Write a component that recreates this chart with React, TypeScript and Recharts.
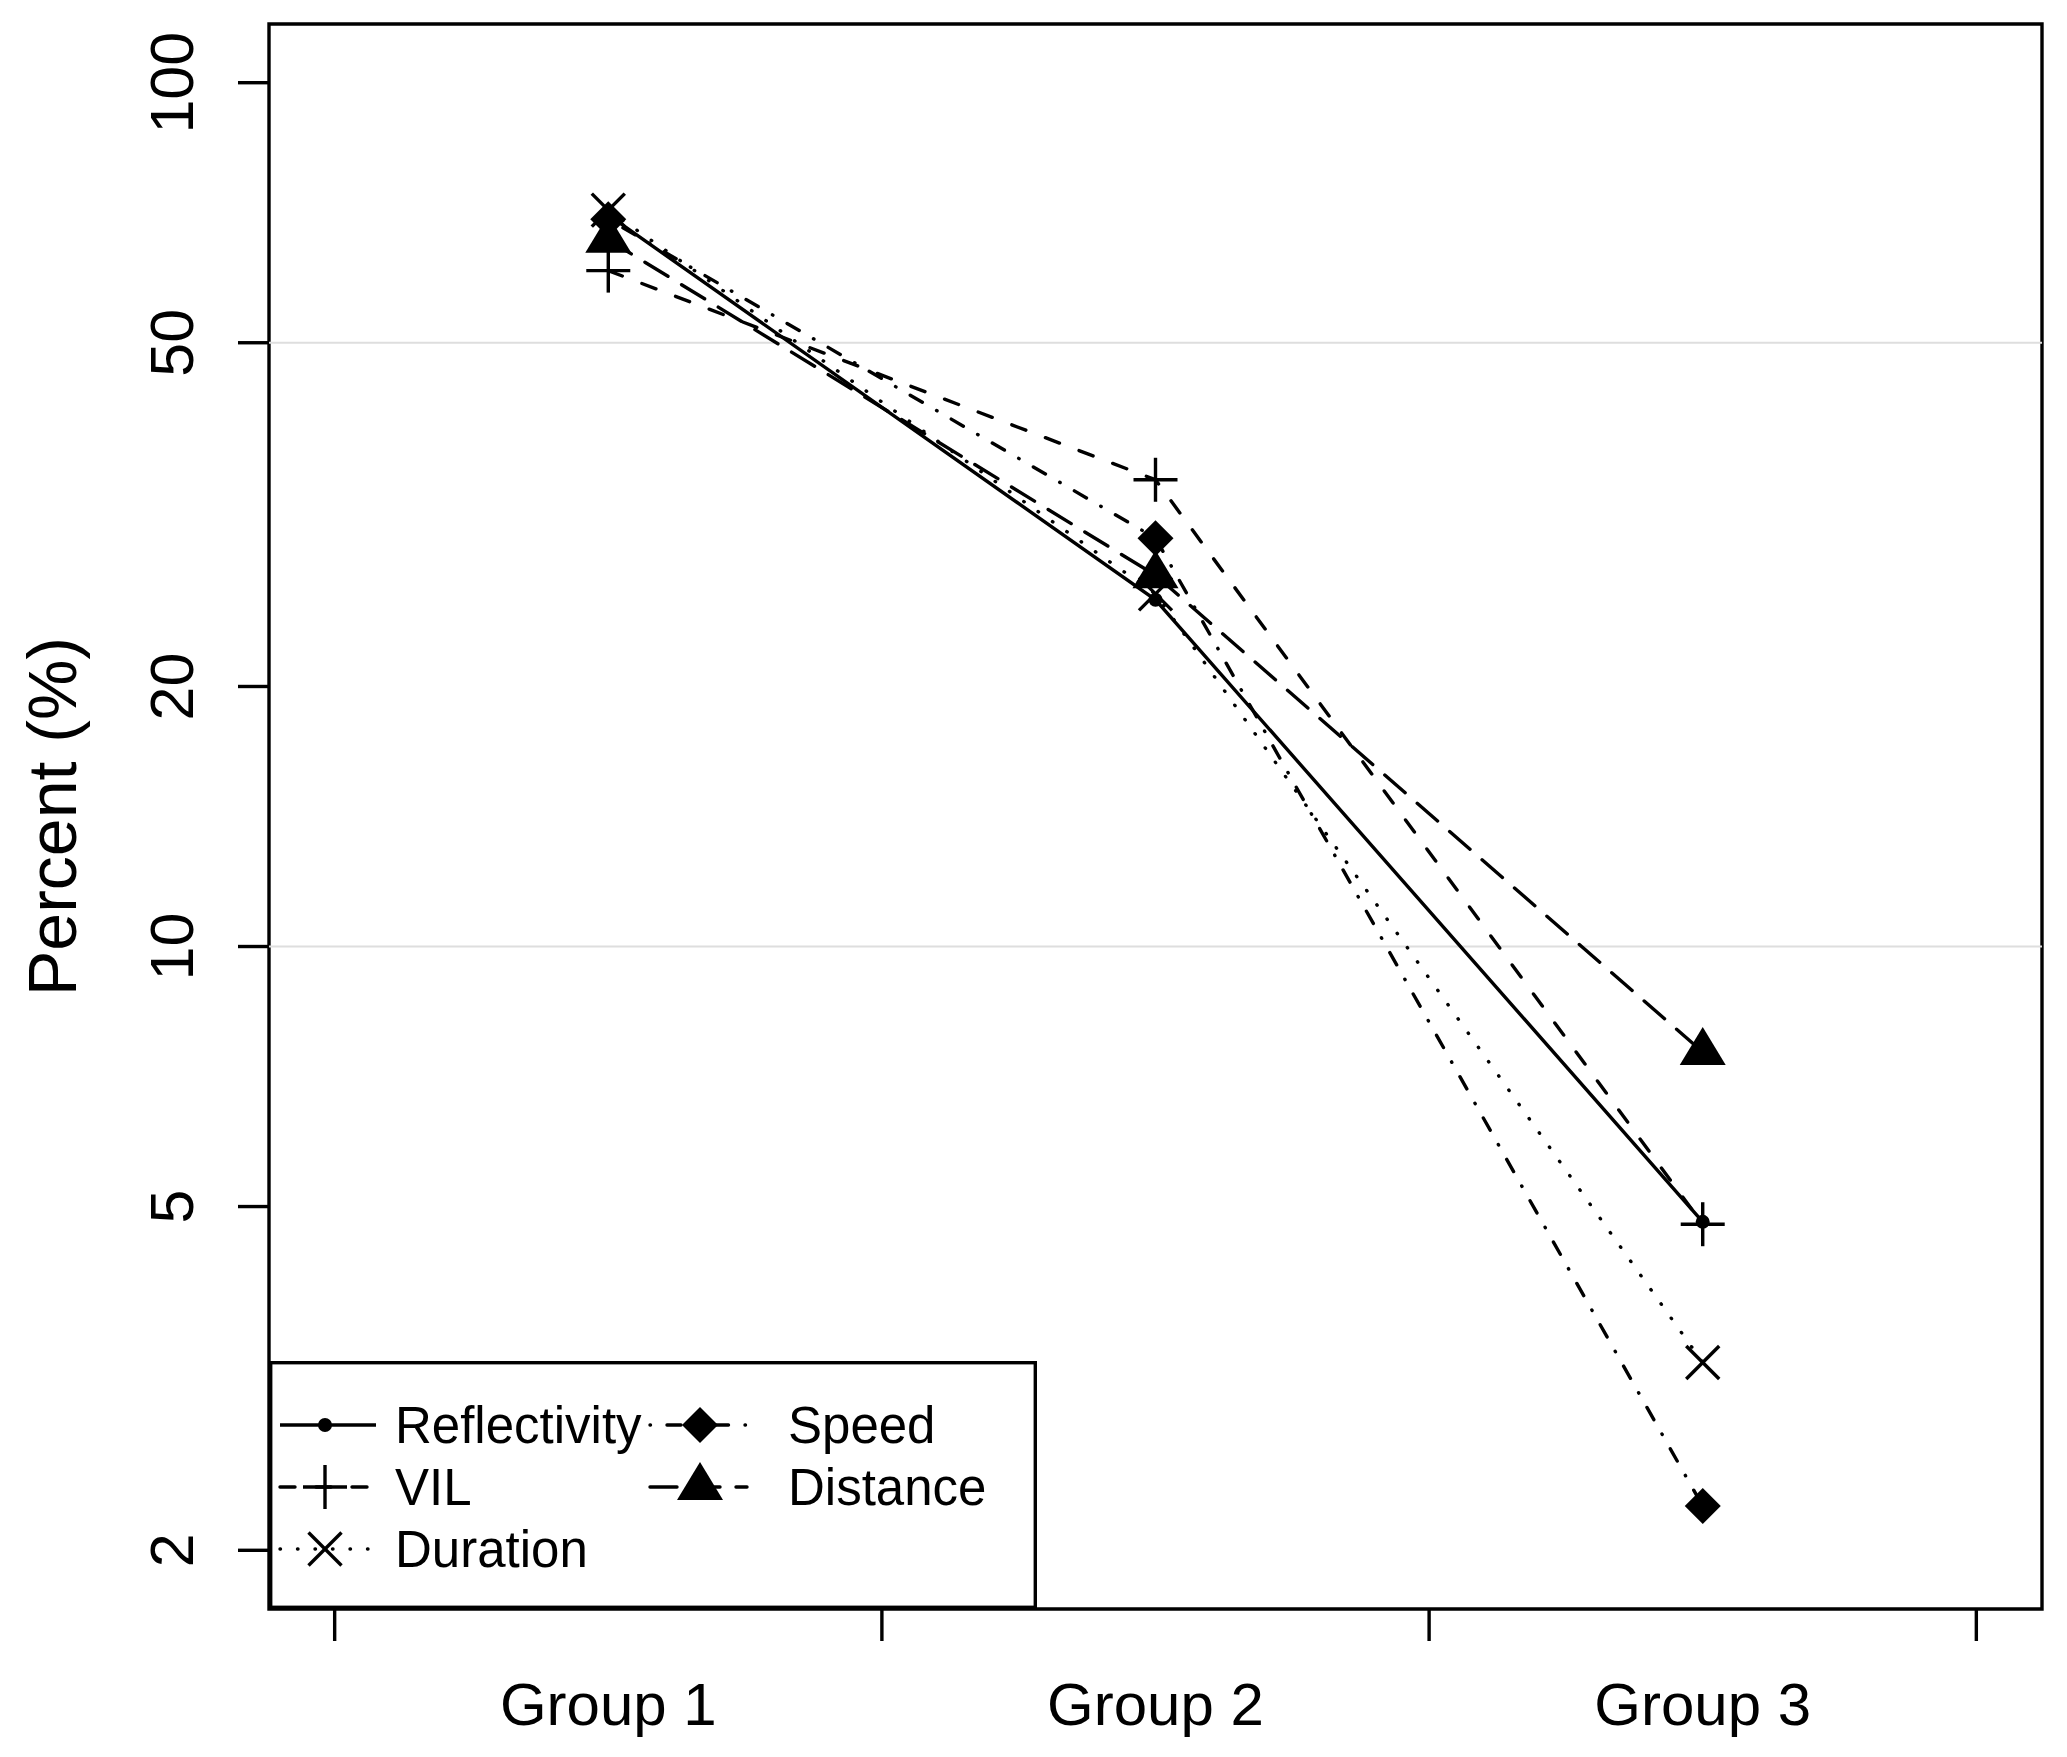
import React from 'react';
import { LineChart, Line, XAxis, YAxis, ReferenceLine, ReferenceArea, Legend } from 'recharts';

const groups = ['Group 1', 'Group 2', 'Group 3'];
const groupPositions = [0.5, 1.5, 2.5];
const xTicks = [0, 0.5, 1, 1.5, 2, 2.5, 3];
const yTicks = [2, 5, 10, 20, 50, 100];
const gridValues = [50, 10];

const reflectivity = [70.3, 25.2, 4.8];
const vil = [60.6, 34.7, 4.77];
const duration = [71.2, 25.6, 3.3];
const speed = [69.5, 29.7, 2.25];
const distance = [65.8, 26.9, 7.55];

const X_DOMAIN: [number, number] = [-0.12, 3.12];
const Y_DOMAIN: [number, number] = [1.7103, 116.94];

const FONT = '"Liberation Sans", Arial, Helvetica, sans-serif';

const rows = groups.map((g, i) => ({
  x: groupPositions[i],
  name: g,
  reflectivity: reflectivity[i],
  vil: vil[i],
  duration: duration[i],
  speed: speed[i],
  distance: distance[i],
}));

type Kind = 'dot' | 'plus' | 'cross' | 'diamond' | 'triangle';

const series: { key: string; label: string; kind: Kind; dash?: string }[] = [
  { key: 'reflectivity', label: 'Reflectivity', kind: 'dot' },
  { key: 'vil', label: 'VIL', kind: 'plus', dash: '15 21' },
  { key: 'duration', label: 'Duration', kind: 'cross', dash: '0.5 17' },
  { key: 'speed', label: 'Speed', kind: 'diamond', dash: '0.5 16.5 14 16.5' },
  { key: 'distance', label: 'Distance', kind: 'triangle', dash: '27 16' },
];

const SW = 3.4;

function Marker({ cx, cy, kind }: { cx: number; cy: number; kind: Kind }) {
  if (cx == null || cy == null) return null;
  switch (kind) {
    case 'dot':
      return <circle cx={cx} cy={cy} r={7} fill="#000" />;
    case 'plus': {
      const h = 22;
      return (
        <g stroke="#000" strokeWidth={SW}>
          <line x1={cx - h} y1={cy} x2={cx + h} y2={cy} />
          <line x1={cx} y1={cy - h} x2={cx} y2={cy + h} />
        </g>
      );
    }
    case 'cross': {
      const h = 16.5;
      return (
        <g stroke="#000" strokeWidth={SW}>
          <line x1={cx - h} y1={cy - h} x2={cx + h} y2={cy + h} />
          <line x1={cx - h} y1={cy + h} x2={cx + h} y2={cy - h} />
        </g>
      );
    }
    case 'diamond': {
      const h = 18;
      return <polygon points={`${cx},${cy - h} ${cx + h},${cy} ${cx},${cy + h} ${cx - h},${cy}`} fill="#000" />;
    }
    case 'triangle': {
      const w = 23;
      return <polygon points={`${cx},${cy - 25} ${cx + w},${cy + 13} ${cx - w},${cy + 13}`} fill="#000" />;
    }
  }
  return null;
}

function XTick(props: any) {
  const { x, y, payload } = props;
  const v = payload.value as number;
  if (Number.isInteger(v)) {
    return <line x1={x} y1={y} x2={x} y2={y + 32} stroke="#000" strokeWidth={SW} />;
  }
  const label = groups[Math.floor(v)];
  return (
    <text x={x} y={y + 116} textAnchor="middle" fontFamily={FONT} fontSize={60} fill="#000">
      {label}
    </text>
  );
}

function YTick(props: any) {
  const { x, y, payload } = props;
  const tx = x - 76;
  return (
    <g>
      <line x1={x - 31} y1={y} x2={x} y2={y} stroke="#000" strokeWidth={SW} />
      <text
        x={tx}
        y={y}
        transform={`rotate(-90, ${tx}, ${y})`}
        textAnchor="middle"
        fontFamily={FONT}
        fontSize={61}
        fill="#000"
      >
        {payload.value}
      </text>
    </g>
  );
}

function YLabel(props: any) {
  const vb = props.viewBox || { x: 0, y: 24, width: 269, height: 1585 };
  const lx = vb.x + 76;
  const ly = vb.y + vb.height / 2;
  return (
    <text
      x={lx}
      y={ly}
      transform={`rotate(-90, ${lx}, ${ly})`}
      textAnchor="middle"
      fontFamily={FONT}
      fontSize={68}
      fill="#000"
    >
      Percent (%)
    </text>
  );
}

const legendCols = [
  ['reflectivity', 'vil', 'duration'],
  ['speed', 'distance'],
];

function LegendBox() {
  const W = 768;
  const H = 248;
  const colLine = [
    { x1: 11, x2: 107, sym: 56, text: 126 },
    { x1: 381, x2: 478, sym: 431, text: 519 },
  ];
  const rowY = [64, 126, 188];
  return (
    <svg width={W} height={H} style={{ display: 'block' }}>
      <rect x={1.7} y={1.7} width={W - 3.4} height={H - 3.4} fill="#fff" stroke="#000" strokeWidth={SW} />
      {legendCols.map((col, ci) =>
        col.map((key, ri) => {
          const s = series.find((q) => q.key === key)!;
          const c = colLine[ci];
          const y = rowY[ri];
          return (
            <g key={key}>
              <line
                x1={c.x1}
                y1={y}
                x2={c.x2}
                y2={y}
                stroke="#000"
                strokeWidth={SW}
                strokeDasharray={s.dash}
                strokeLinecap={s.dash ? 'round' : 'butt'}
              />
              <Marker cx={c.sym} cy={y} kind={s.kind} />
              <text x={c.text} y={y + 18} fontFamily={FONT} fontSize={51} fill="#000">
                {s.label}
              </text>
            </g>
          );
        })
      )}
    </svg>
  );
}

export default function App() {
  return (
    <div style={{ position: 'absolute', left: 0, top: 0, background: '#fff' }}>
      <LineChart width={2067} height={1757} data={rows} margin={{ top: 24, right: 25, bottom: 0, left: 0 }}>
        <XAxis
          type="number"
          dataKey="x"
          domain={X_DOMAIN}
          ticks={xTicks}
          interval={0}
          allowDataOverflow
          height={148}
          tickSize={0}
          tickMargin={0}
          tickLine={false}
          axisLine={false}
          tick={<XTick />}
        />
        <YAxis
          type="number"
          scale="log"
          domain={Y_DOMAIN}
          ticks={yTicks}
          interval={0}
          allowDataOverflow
          width={269}
          tickSize={0}
          tickMargin={0}
          tickLine={false}
          axisLine={false}
          tick={<YTick />}
          label={<YLabel />}
        />
        {gridValues.map((v) => (
          <ReferenceLine key={v} y={v} stroke="#dedede" strokeWidth={2} />
        ))}
        {series.map((s) => (
          <Line
            key={s.key}
            type="linear"
            dataKey={s.key}
            stroke="#000"
            strokeWidth={SW}
            strokeDasharray={s.dash}
            strokeLinecap="round"
            isAnimationActive={false}
            dot={(p: any) => <Marker key={`${s.key}-${p.index}`} cx={p.cx} cy={p.cy} kind={s.kind} />}
            activeDot={false}
          />
        ))}
        <ReferenceArea
          x1={X_DOMAIN[0]}
          x2={X_DOMAIN[1]}
          y1={Y_DOMAIN[0]}
          y2={Y_DOMAIN[1]}
          fill="none"
          fillOpacity={0}
          stroke="#000"
          strokeWidth={SW}
          ifOverflow="visible"
        />
        <Legend
          layout="horizontal"
          verticalAlign="middle"
          align="center"
          content={() => <LegendBox />}
          wrapperStyle={{ position: 'absolute', left: 269, top: 1361, width: 768, height: 248, margin: 0, padding: 0 }}
        />
      </LineChart>
    </div>
  );
}
